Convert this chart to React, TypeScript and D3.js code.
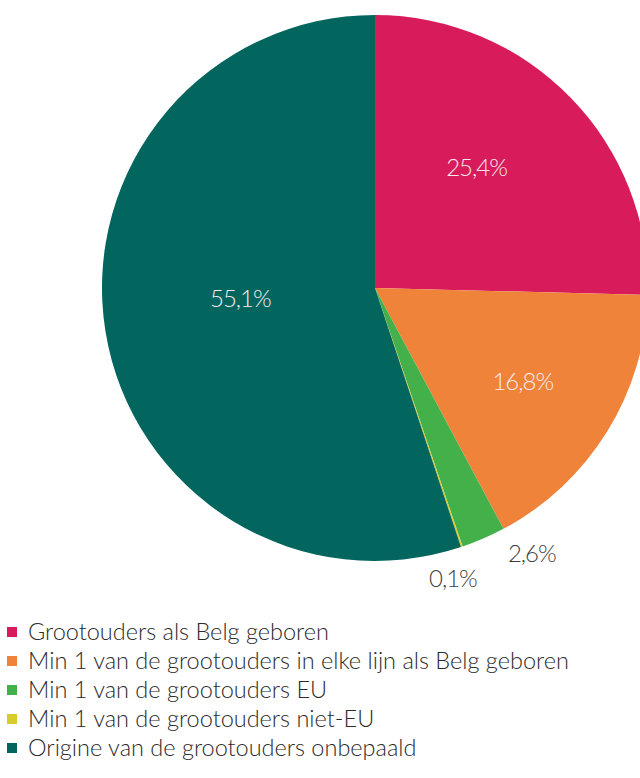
import React, { useEffect, useRef } from "react";
import * as d3 from "d3";

const categories = [
  "Grootouders als Belg geboren",
  "Min 1 van de grootouders in elke lijn als Belg geboren",
  "Min 1 van de grootouders EU",
  "Min 1 van de grootouders niet-EU",
  "Origine van de grootouders onbepaald",
];
const values = [25.4, 16.8, 2.6, 0.1, 55.1];
const valueLabels = ["25,4%", "16,8%", "2,6%", "0,1%", "55,1%"];

const colors = ["#d81b5a", "#f0833a", "#44b049", "#d6cc2c", "#02665f"];
// label placement (radius, angle in degrees from 12 o'clock), layout only
const labelPolar: [number, number][] = [
  [158, 40],
  [175, 122.4],
  [308, 149.4],
  [301, 165],
  [135, 265.8],
];

const App = () => {
  const ref = useRef<SVGSVGElement>(null);

  useEffect(() => {
    const svg = d3.select(ref.current);
    svg.selectAll("*").remove();

    const width = 640;
    const height = 778;
    const cx = 375;
    const cy = 288;
    const radius = 273;
    const font = "Lato, 'Open Sans', sans-serif";

    svg.attr("width", width).attr("height", height);

    const pie = d3.pie<number>().sort(null).value((d) => d);
    const arcs = pie(values);
    const arc = d3.arc<d3.PieArcDatum<number>>().innerRadius(0).outerRadius(radius);

    const g = svg.append("g").attr("transform", `translate(${cx},${cy})`);

    g.selectAll("path")
      .data(arcs)
      .enter()
      .append("path")
      .attr("d", arc)
      .attr("fill", (d, i) => colors[i]);

    g.selectAll("text.lbl")
      .data(arcs)
      .enter()
      .append("text")
      .attr("class", "lbl")
      .attr("x", (d, i) => labelPolar[i][0] * Math.sin((labelPolar[i][1] * Math.PI) / 180))
      .attr("y", (d, i) => -labelPolar[i][0] * Math.cos((labelPolar[i][1] * Math.PI) / 180))
      .attr("dy", "0.36em")
      .attr("text-anchor", "middle")
      .style("font-family", font)
      .style("font-weight", 300)
      .style("font-size", "24px")
      .style("letter-spacing", "-1px")
      .attr("fill", (d, i) => (labelPolar[i][0] > radius ? "#3f3f3f" : "#f6e9ee"))
      .text((d, i) => valueLabels[i]);

    const legend = svg.append("g").attr("transform", "translate(7,632)");
    const row = 29;

    legend
      .selectAll("rect")
      .data(categories)
      .enter()
      .append("rect")
      .attr("x", 0)
      .attr("y", (d, i) => i * row - 5)
      .attr("width", 10)
      .attr("height", 10)
      .attr("fill", (d, i) => colors[i]);

    legend
      .selectAll("text")
      .data(categories)
      .enter()
      .append("text")
      .attr("x", 21)
      .attr("y", (d, i) => i * row + 8)
      .style("font-family", font)
      .style("font-weight", 300)
      .style("font-size", "23.5px")
      .attr("fill", "#2b2b2b")
      .text((d) => d);
  }, []);

  return (
    <div style={{ position: "fixed", left: 0, top: 0, width: 640, height: 778, overflow: "hidden", background: "#fff" }}>
      <svg ref={ref} style={{ display: "block" }} />
    </div>
  );
};

export default App;
